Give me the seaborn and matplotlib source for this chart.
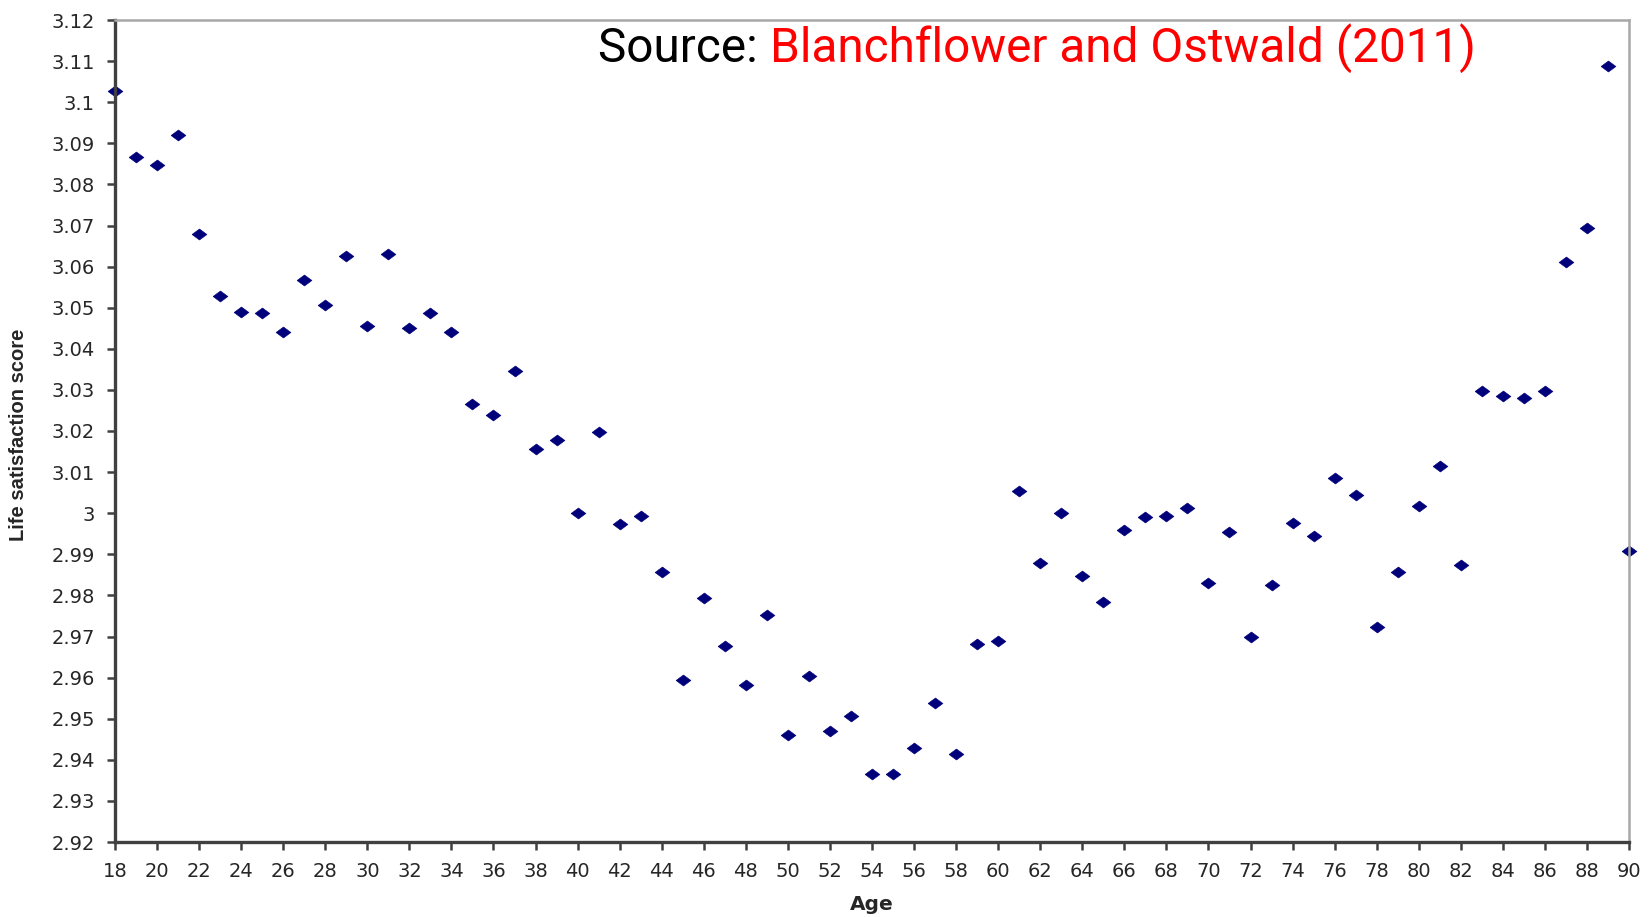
import matplotlib
matplotlib.use("Agg")
import matplotlib.pyplot as plt
import seaborn as sns
import pandas as pd

ages = list(range(18, 91))
scores = [
    3.1028, 3.0867, 3.0847, 3.0921, 3.0680, 3.0529, 3.0490, 3.0488, 3.0442, 3.0567,  # 18-27
    3.0506, 3.0626, 3.0455, 3.0631, 3.0450, 3.0486, 3.0440, 3.0265, 3.0240, 3.0345,  # 28-37
    3.0155, 3.0178, 3.0000, 3.0198, 2.9973, 2.9994, 2.9858, 2.9594, 2.9794, 2.9676,  # 38-47
    2.9581, 2.9753, 2.9461, 2.9605, 2.9469, 2.9507, 2.9366, 2.9366, 2.9428, 2.9538,  # 48-57
    2.9415, 2.9681, 2.9689, 3.0053, 2.9879, 3.0000, 2.9848, 2.9784, 2.9960, 2.9991,  # 58-67
    2.9994, 3.0012, 2.9830, 2.9955, 2.9700, 2.9825, 2.9976, 2.9945, 3.0086, 3.0045,  # 68-77
    2.9722, 2.9858, 3.0017, 3.0114, 2.9873, 3.0298, 3.0286, 3.0281, 3.0298, 3.0611,  # 78-87
    3.0693, 3.1087, 2.9909,                                                          # 88-90
]
x_ticks = list(range(18, 91, 2))
y_ticks = [2.92, 2.93, 2.94, 2.95, 2.96, 2.97, 2.98, 2.99, 3.00, 3.01, 3.02,
           3.03, 3.04, 3.05, 3.06, 3.07, 3.08, 3.09, 3.10, 3.11, 3.12]
y_tick_labels = ["2.92", "2.93", "2.94", "2.95", "2.96", "2.97", "2.98", "2.99", "3",
                 "3.01", "3.02", "3.03", "3.04", "3.05", "3.06", "3.07", "3.08",
                 "3.09", "3.1", "3.11", "3.12"]
x_label = "Age"
y_label = "Life satisfaction score"
source_prefix = "Source: "
source_text = "Blanchflower and Ostwald (2011)"

df = pd.DataFrame({"Age": ages, "Score": scores})

sns.set_style("white")
plt.rcParams["font.family"] = ["DejaVu Sans"]

W, H = 1651, 917
fig = plt.figure(figsize=(W / 100, H / 100), dpi=100)
left_px, right_px, top_px, bottom_px = 115, 1629, 20, 842
ax = fig.add_axes([left_px / W, 1 - bottom_px / H,
                   (right_px - left_px) / W, (bottom_px - top_px) / H])

diamond = [(-1, 0), (0, 0.74), (1, 0), (0, -0.74), (-1, 0)]
sns.scatterplot(data=df, x="Age", y="Score", ax=ax, marker=diamond, s=115,
                color="#00007a", edgecolor="#00007a", linewidth=0.4, clip_on=False)

ax.set_xlim(18, 90)
ax.set_ylim(2.92, 3.12)
ax.set_xticks(x_ticks)
ax.set_xticklabels([str(t) for t in x_ticks], fontsize=14, color="#262626")
ax.set_yticks(y_ticks)
ax.set_yticklabels(y_tick_labels, fontsize=14, color="#262626")
ax.tick_params(axis="both", direction="out", length=5.5, width=1.8, color="#404040",
               pad=9, left=True, bottom=True)

ax.set_xlabel(x_label, fontsize=14.5, fontweight="bold", color="#262626")
ax.xaxis.set_label_coords(0.5, -(905 - bottom_px) / (bottom_px - top_px))
ax.xaxis.label.set_va("center")
ax.set_ylabel(y_label, fontsize=14.5, fontweight="bold", color="#262626",
              family=["Liberation Sans", "DejaVu Sans"])
ax.yaxis.set_label_coords(-(left_px - 19) / (right_px - left_px), 0.495)
ax.yaxis.label.set_va("center")

for side in ["left", "bottom"]:
    ax.spines[side].set_color("#404040")
    ax.spines[side].set_linewidth(2.4)
for side in ["top", "right"]:
    ax.spines[side].set_color("#a8a8a8")
    ax.spines[side].set_linewidth(1.8)

# Source annotation, fitted to the reference width
src_left, src_right, src_base = 598, 1477, 62
fam = ["Roboto", "DejaVu Sans"]
fs = 33
t1 = fig.text(src_left / W, 1 - src_base / H, source_prefix, fontsize=fs, color="black",
              family=fam, va="baseline", ha="left")
t2 = fig.text(0, 1 - src_base / H, source_text, fontsize=fs, color="#ff0000",
              family=fam, va="baseline", ha="left")
fig.canvas.draw()
r = fig.canvas.get_renderer()
total = t1.get_window_extent(r).width + t2.get_window_extent(r).width
fs = fs * (src_right - src_left) / total
t1.set_fontsize(fs)
t2.set_fontsize(fs)
fig.canvas.draw()
bb = t1.get_window_extent(r)
t2.set_x(bb.x1 / W)

fig.savefig("out.png", dpi=100)
